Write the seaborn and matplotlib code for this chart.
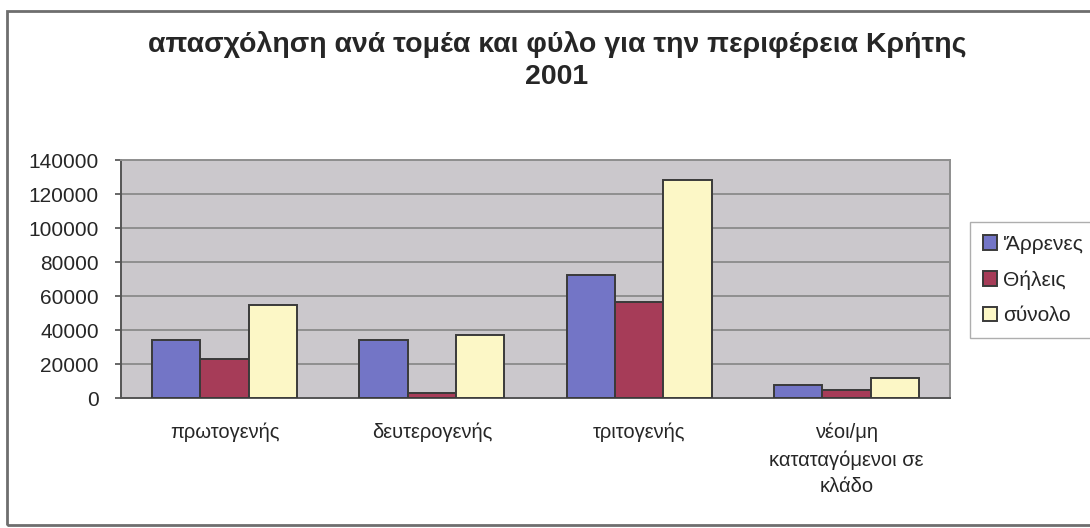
import matplotlib
matplotlib.use("Agg")
import matplotlib.pyplot as plt
from matplotlib.patches import Rectangle
from matplotlib.ticker import FixedLocator
import seaborn as sns
import pandas as pd

# Employment by sector and sex, region of Crete, 2001
sectors = ["πρωτογενής", "δευτερογενής", "τριτογενής",
           "νέοι/μη\nκαταταγόμενοι σε\nκλάδο"]
series_names = ["'Άρρενες", "Θήλεις", "σύνολο"]
males = [34000, 34000, 72200, 7800]
females = [22800, 2900, 56300, 4850]
total = [54900, 37000, 128200, 12000]
y_ticks = [0, 20000, 40000, 60000, 80000, 100000, 120000, 140000]

colors = {"'Άρρενες": "#7375c6", "Θήλεις": "#a63c58", "σύνολο": "#fcf7c6"}

df = pd.DataFrame({
    "sector": sectors * 3,
    "series": [series_names[0]] * 4 + [series_names[1]] * 4 + [series_names[2]] * 4,
    "value": males + females + total,
})

sns.set_theme(style="white")
plt.rcParams["font.family"] = ["Liberation Sans", "DejaVu Sans"]

fig = plt.figure(figsize=(10.9, 5.28), dpi=100)
fig.patch.set_facecolor("white")
ax = fig.add_axes([121 / 1090, 1 - 398 / 528, (950 - 121) / 1090, (398 - 160) / 528])
ax.set_facecolor("#cbc8cc")

sns.barplot(data=df, x="sector", y="value", hue="series", order=sectors,
            hue_order=series_names, palette=colors, saturation=1,
            edgecolor="#3a3a3a", linewidth=1.4, width=0.7, gap=0,
            ax=ax, zorder=3)

ax.set_ylim(0, 140000)
ax.set_xlim(-0.5, 3.5)
ax.set_yticks(y_ticks)
ax.set_yticklabels([str(v) for v in y_ticks], fontsize=15)
ax.yaxis.grid(True, color="#858585", linewidth=1.2, zorder=0)
ax.set_axisbelow(True)
ax.set_xlabel("")
ax.set_ylabel("")

ax.set_xticks(range(len(sectors)))
ax.set_xticklabels(sectors, fontsize=14.5, linespacing=1.5, va="top")
ax.tick_params(axis="x", length=0, pad=18)
ax.xaxis.set_minor_locator(FixedLocator([0.5, 1.5, 2.5]))
ax.tick_params(axis="x", which="minor", length=4, color="#555555", direction="out")
ax.tick_params(axis="y", length=4, color="#555555", direction="out", pad=12, left=True)

for side in ["top", "right"]:
    ax.spines[side].set_color("#8e8e8e")
    ax.spines[side].set_linewidth(1.4)
for side in ["left", "bottom"]:
    ax.spines[side].set_color("#555555")
    ax.spines[side].set_linewidth(1.4)

handles, labels = ax.get_legend_handles_labels()
ax.legend(handles, labels, loc="upper left",
          bbox_to_anchor=(970 / 1090, 1 - 222 / 528), bbox_transform=fig.transFigure,
          frameon=True, fancybox=False, edgecolor="#9a9a9a", facecolor="white",
          fontsize=15, handlelength=0.7, handleheight=0.7, handletextpad=0.3,
          labelspacing=0.8, borderpad=0.6, borderaxespad=0)

fig.text(557 / 1090, 1 - 60 / 528,
         "απασχόληση ανά τομέα και φύλο για την περιφέρεια Κρήτης\n2001",
         ha="center", va="center", fontsize=20.5, fontweight="bold",
         family=["Liberation Sans Narrow", "Liberation Sans", "DejaVu Sans"],
         linespacing=1.3)

# outer chart frame
fig.patches.append(Rectangle((7 / 1090, 1 - 525 / 528), 1.2, (525 - 11) / 528,
                             transform=fig.transFigure, fill=False,
                             edgecolor="#6e6e6e", linewidth=2))

fig.savefig("out.png", dpi=100, facecolor="white")
